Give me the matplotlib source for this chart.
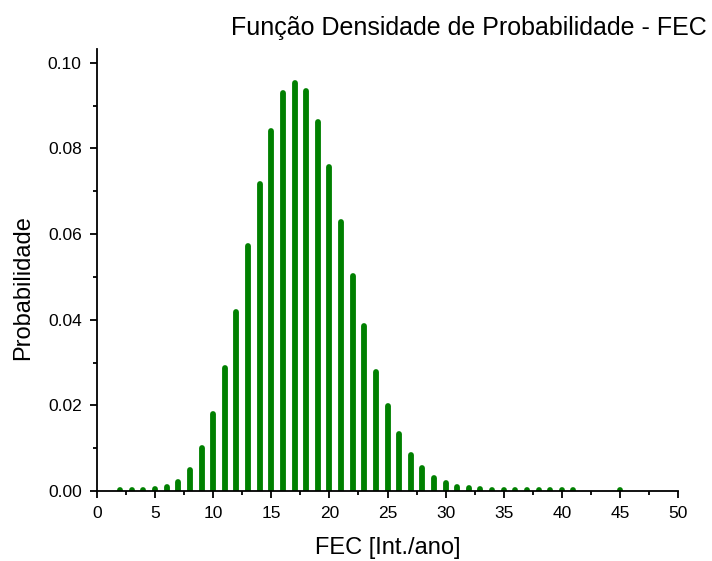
import matplotlib
matplotlib.use("Agg")
import matplotlib.pyplot as plt
from matplotlib.ticker import MultipleLocator, FormatStrFormatter

plt.rcParams["font.family"] = ["Liberation Sans", "DejaVu Sans"]

# distribuição de probabilidade da FEC (interrupções por ano)
fec = [2, 3, 4, 5, 6, 7, 8, 9, 10, 11, 12, 13, 14, 15, 16, 17, 18, 19, 20,
       21, 22, 23, 24, 25, 26, 27, 28, 29, 30, 31, 32, 33, 34, 35, 36, 37,
       38, 39, 40, 41, 45]
prob = [0.0002, 0.0002, 0.0003, 0.0005, 0.0009, 0.0022, 0.0050, 0.0101,
        0.0180, 0.0288, 0.0419, 0.0573, 0.0717, 0.0841, 0.0929, 0.0953,
        0.0935, 0.0861, 0.0756, 0.0628, 0.0503, 0.0385, 0.0279, 0.0198,
        0.0133, 0.0085, 0.0053, 0.0031, 0.0019, 0.0010, 0.0006, 0.0004,
        0.0003, 0.0003, 0.0002, 0.0002, 0.0002, 0.0002, 0.0002, 0.0002,
        0.0002]

fig = plt.figure(figsize=(7.12, 5.61), dpi=100)
ax = fig.add_axes([97 / 712, 1 - 491 / 561, 581 / 712, 442 / 561])

bars = ax.vlines(fec, 0, prob, color="#008000", linewidth=4.2)
bars.set_capstyle("round")

ax.set_xlim(0, 50)
ax.set_ylim(0, 0.1032)

ax.xaxis.set_major_locator(MultipleLocator(5))
ax.xaxis.set_minor_locator(MultipleLocator(2.5))
ax.yaxis.set_major_locator(MultipleLocator(0.02))
ax.yaxis.set_minor_locator(MultipleLocator(0.01))
ax.yaxis.set_major_formatter(FormatStrFormatter("%.2f"))

for side in ("top", "right"):
    ax.spines[side].set_visible(False)
for side in ("left", "bottom"):
    ax.spines[side].set_linewidth(1.3)
    ax.spines[side].set_zorder(3)

ax.tick_params(which="major", direction="out", length=5, width=1.3,
               labelsize=12.5, pad=6)
ax.tick_params(which="minor", direction="out", length=3, width=1.3)

ax.set_xlabel("FEC [Int./ano]", fontsize=17, labelpad=11)
ax.set_ylabel("Probabilidade", fontsize=17)
ax.yaxis.set_label_coords(-0.108, 0.46)

fig.text(707 / 712, 1 - 35 / 561, "Função Densidade de Probabilidade - FEC",
         ha="right", va="baseline", fontsize=18)

fig.savefig("out.png", dpi=100)
